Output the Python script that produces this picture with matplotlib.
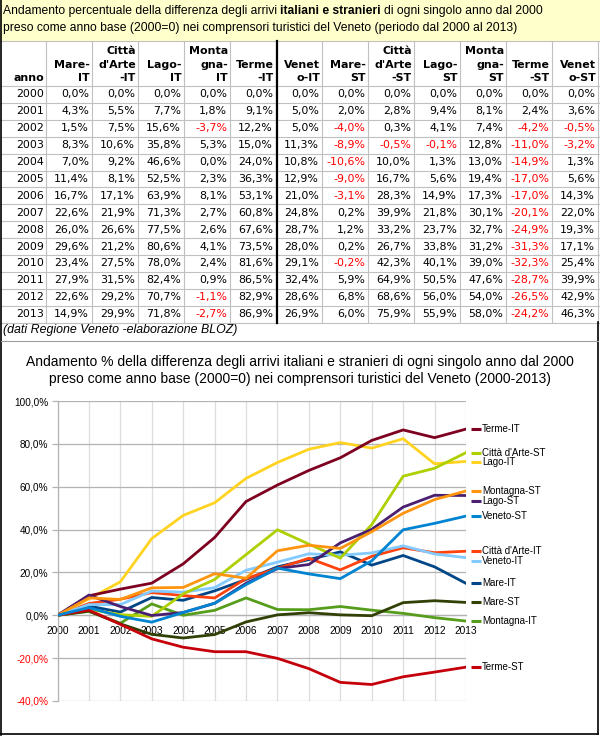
import matplotlib
matplotlib.use("Agg")
import matplotlib.pyplot as plt

# ---------------- data ----------------
years = [2000, 2001, 2002, 2003, 2004, 2005, 2006, 2007, 2008, 2009, 2010, 2011, 2012, 2013]

mare_it = [0.0, 4.3, 1.5, 8.3, 7.0, 11.4, 16.7, 22.6, 26.0, 29.6, 23.4, 27.9, 22.6, 14.9]
citta_it = [0.0, 5.5, 7.5, 10.6, 9.2, 8.1, 17.1, 21.9, 26.6, 21.2, 27.5, 31.5, 29.2, 29.9]
lago_it = [0.0, 7.7, 15.6, 35.8, 46.6, 52.5, 63.9, 71.3, 77.5, 80.6, 78.0, 82.4, 70.7, 71.8]
montagna_it = [0.0, 1.8, -3.7, 5.3, 0.0, 2.3, 8.1, 2.7, 2.6, 4.1, 2.4, 0.9, -1.1, -2.7]
terme_it = [0.0, 9.1, 12.2, 15.0, 24.0, 36.3, 53.1, 60.8, 67.6, 73.5, 81.6, 86.5, 82.9, 86.9]
veneto_it = [0.0, 5.0, 5.0, 11.3, 10.8, 12.9, 21.0, 24.8, 28.7, 28.0, 29.1, 32.4, 28.6, 26.9]
mare_st = [0.0, 2.0, -4.0, -8.9, -10.6, -9.0, -3.1, 0.2, 1.2, 0.2, -0.2, 5.9, 6.8, 6.0]
citta_st = [0.0, 2.8, 0.3, -0.5, 10.0, 16.7, 28.3, 39.9, 33.2, 26.7, 42.3, 64.9, 68.6, 75.9]
lago_st = [0.0, 9.4, 4.1, -0.1, 1.3, 5.6, 14.9, 21.8, 23.7, 33.8, 40.1, 50.5, 56.0, 55.9]
montagna_st = [0.0, 8.1, 7.4, 12.8, 13.0, 19.4, 17.3, 30.1, 32.7, 31.2, 39.0, 47.6, 54.0, 58.0]
terme_st = [0.0, 2.4, -4.2, -11.0, -14.9, -17.0, -17.0, -20.1, -24.9, -31.3, -32.3, -28.7, -26.5, -24.2]
veneto_st = [0.0, 3.6, -0.5, -3.2, 1.3, 5.6, 14.3, 22.0, 19.3, 17.1, 25.4, 39.9, 42.9, 46.3]

series_names = ["Mare-IT", "Città d'Arte-IT", "Lago-IT", "Montagna-IT", "Terme-IT", "Veneto-IT",
                "Mare-ST", "Città d'Arte-ST", "Lago-ST", "Montagna-ST", "Terme-ST", "Veneto-ST"]
series_values = [mare_it, citta_it, lago_it, montagna_it, terme_it, veneto_it,
                 mare_st, citta_st, lago_st, montagna_st, terme_st, veneto_st]
series_colors = ["#004586", "#FF420E", "#FFD320", "#579D1C", "#7E0021", "#83CAFF",
                 "#314004", "#AECF00", "#4B1F6F", "#FF950E", "#C5000B", "#0084D1"]

header_labels = [["anno"], ["Mare-", "IT"], ["Città", "d'Arte", "-IT"], ["Lago-", "IT"],
                 ["Monta", "gna-", "IT"], ["Terme", "-IT"], ["Venet", "o-IT"],
                 ["Mare-", "ST"], ["Città", "d'Arte", "-ST"], ["Lago-", "ST"],
                 ["Monta", "gna-", "ST"], ["Terme", "-ST"], ["Venet", "o-ST"]]

y_ticks = [-40, -20, 0, 20, 40, 60, 80, 100]

table_title_1a = "Andamento percentuale della differenza degli arrivi"
table_title_1b = "italiani e stranieri"
table_title_1c = "di ogni singolo anno dal 2000"
table_title_2 = "preso come anno base (2000=0) nei comprensori turistici del Veneto (periodo dal 2000 al 2013)"
caption = "(dati Regione Veneto -elaborazione BLOZ)"
chart_title_1 = "Andamento % della differenza degli arrivi italiani e stranieri di ogni singolo anno dal 2000"
chart_title_2 = "preso come anno base (2000=0) nei comprensori turistici del Veneto (2000-2013)"


def pct(v):
    return ("%.1f%%" % v).replace(".", ",")


# ---------------- figure ----------------
W, H = 600, 736
fig = plt.figure(figsize=(W / 100, H / 100), dpi=100)
bg = fig.add_axes([0, 0, 1, 1])
bg.set_xlim(0, W)
bg.set_ylim(H, 0)
bg.axis("off")
renderer = fig.canvas.get_renderer()

SANS = ["Liberation Sans", "DejaVu Sans"]
VERD = ["DejaVu Sans"]
PX = 72.0 / 100.0  # points per pixel


def width_px(t):
    return t.get_window_extent(renderer=renderer).width


def fit_text(t, target):
    for _ in range(3):
        w = width_px(t)
        t.set_fontsize(t.get_fontsize() * target / w)


# title box
bg.add_patch(plt.Rectangle((0, 0), W, 41, facecolor="#FFFFCC", edgecolor="none", zorder=0))

# table title: two lines, same size; line 1 has a bold part
fs = 8.0
pieces = [(table_title_1a, "normal"), (table_title_1b, "bold"), (table_title_1c, "normal")]
txts = [bg.text(0, 11, s, fontsize=fs, fontweight=w, family=SANS, va="center", ha="left")
        for s, w in pieces]
t2 = bg.text(3, 28.5, table_title_2, fontsize=fs, family=SANS, va="center", ha="left")
for _ in range(3):
    f = txts[0].get_fontsize()
    sp = 0.278 * f / PX
    total = sum(width_px(t) for t in txts) + 2 * sp + width_px(t2)
    scale = (497.0 + 550.0) / total
    for t in txts + [t2]:
        t.set_fontsize(t.get_fontsize() * scale)
sp = 0.278 * txts[0].get_fontsize() / PX
x = 3
for t in txts:
    t.set_x(x)
    x += width_px(t) + sp

# table grid
col_w = 46
row_top = 86
row_h = 16.9
n_rows = len(years)
table_bottom = row_top + n_rows * row_h
grid_c = "#C0C0C0"
bg.plot([0, W], [41, 41], color=grid_c, lw=0.8)
for k in range(n_rows + 1):
    yy = row_top + k * row_h
    bg.plot([0, 599], [yy, yy], color=grid_c, lw=0.8)
for k in range(1, 14):
    xx = min(k * col_w, 599)
    bg.plot([xx, xx], [41, table_bottom], color=grid_c, lw=0.8)
bg.plot([277, 277], [41, table_bottom], color="black", lw=1.6)

# header
head_y = [51, 64.5, 78]
for c, lines in enumerate(header_labels):
    xr = (c + 1) * col_w - 2
    for j, s in enumerate(lines):
        yy = head_y[3 - len(lines) + j]
        bg.text(xr, yy, s, fontsize=7.9, fontweight="bold", family=VERD, ha="right", va="center")

# data rows
for r, yr in enumerate(years):
    yc = row_top + (r + 0.5) * row_h
    bg.text(col_w - 2, yc, str(yr), fontsize=7.9, family=VERD, ha="right", va="center")
    for c, vals in enumerate(series_values):
        v = vals[r]
        bg.text((c + 2) * col_w - 3, yc, pct(v), fontsize=7.9, family=VERD, ha="right",
                va="center", color="#FF0000" if v < 0 else "black")

cap = bg.text(3, 330, caption, fontsize=8.5, family=SANS, style="italic", ha="left", va="center")
fit_text(cap, 234)

# frame lines
bg.plot([1, 1], [0, 735], color="black", lw=1.2)
bg.plot([598, 598], [322, 734], color="black", lw=1.2)
bg.plot([1, 598], [734, 734], color="black", lw=1.2)
bg.plot([1, 598], [340.5, 340.5], color="#A0A0A0", lw=0.8)

# chart titles
ct1 = bg.text(300, 362, chart_title_1, fontsize=9, family=SANS, ha="center", va="center")
fit_text(ct1, 550)
ct2 = bg.text(300, 379, chart_title_2, fontsize=ct1.get_fontsize(), family=SANS, ha="center", va="center")

# ---------------- line chart ----------------
x_left, x_right = 57.5, 466
y_top, y_bot = 401, 701
ax = fig.add_axes([x_left / W, 1 - y_bot / H, (x_right - x_left) / W, (y_bot - y_top) / H])
ax.set_facecolor("none")
xs = list(range(len(years)))
for name, vals, col in zip(series_names, series_values, series_colors):
    ax.plot(xs, vals, color=col, lw=2.0, solid_joinstyle="miter", zorder=3)

ax.set_xlim(0, len(years) - 1)
ax.set_ylim(-40, 100)
ax.tick_params(axis="y", direction="out", length=4.5, width=0.9, color="#B3B3B3", pad=2,
               labelsize=7.2)
ax.tick_params(axis="x", length=0, pad=7.5, labelsize=7.2)
ax.set_yticks(y_ticks)
ax.set_yticklabels([pct(v) for v in y_ticks], fontsize=7.2, family=SANS)
for lab, v in zip(ax.get_yticklabels(), y_ticks):
    lab.set_color("#FF0000" if v < 0 else "black")
ax.set_xticks(xs)
ax.set_xticklabels([str(y) for y in years], fontsize=7.2, family=SANS)
ax.yaxis.grid(True, color="#B3B3B3", lw=0.9)
ax.xaxis.grid(True, color="#DDDDDD", lw=0.9)
ax.set_axisbelow(True)
for s in ["top", "right"]:
    ax.spines[s].set_visible(False)
ax.spines["left"].set_color("#B3B3B3")
ax.spines["left"].set_linewidth(0.9)
ax.spines["bottom"].set_position(("data", 0))
ax.spines["bottom"].set_color("#B3B3B3")
ax.spines["bottom"].set_linewidth(0.9)
for lab in ax.get_xticklabels():
    lab.set_fontsize(7.3)
    lab.set_family(SANS)


# end-of-line labels (positions follow the last data value, nudged to avoid overlap)
def val_to_px(v):
    return y_bot - (v + 40) / 140.0 * (y_bot - y_top)


ends = sorted([(val_to_px(vals[-1]), name, col)
               for name, vals, col in zip(series_names, series_values, series_colors)])
placed = []
gap = 9.5
for yp, name, col in ends:
    if placed and yp < placed[-1][0] + gap:
        yp = placed[-1][0] + gap
    placed.append((yp, name, col))
for yp, name, col in placed:
    bg.plot([470.5, 481], [yp, yp], color=col, lw=2.2, solid_capstyle="butt")
    bg.text(482, yp, name, fontsize=7.0, family=SANS, ha="left", va="center")

fig.savefig("out.png", dpi=100)
